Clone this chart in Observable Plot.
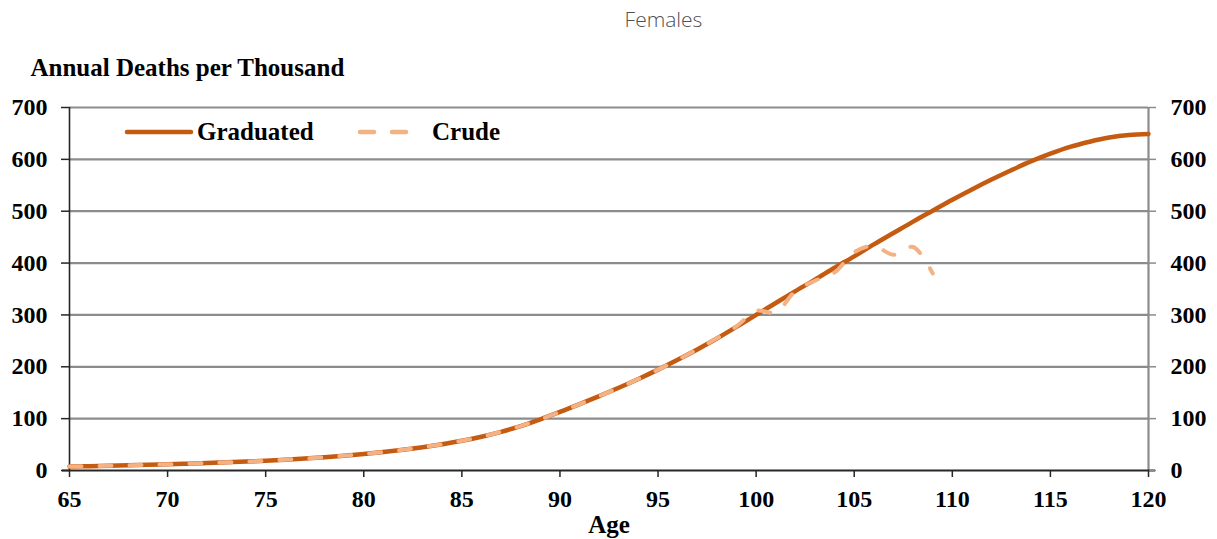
<!DOCTYPE html>
<html>
<head>
<meta charset="utf-8">
<script src="https://cdn.jsdelivr.net/npm/d3@7"></script>
<script src="https://cdn.jsdelivr.net/npm/@observablehq/plot@0.6"></script>
<style>
  html, body { margin: 0; padding: 0; background: #fff; }
  #wrap { position: relative; width: 1217px; height: 539px; overflow: hidden; }
  #title { height: 40px; line-height: 38px; text-align: center; font-family: "Open Sans", sans-serif; font-weight: 300; font-size: 21px; color: #505050; padding-left: 110px; box-sizing: border-box; }
  #legend { position: absolute; left: 0; top: 0; pointer-events: none; }
  #legend text { font-family: "Liberation Serif", "Times New Roman", serif; font-weight: bold; font-size: 25px; fill: #000; }
</style>
</head>
<body>
<div id="wrap">
  <div id="title">Females</div>
  <div id="chart"></div>
  <svg id="legend" width="1217" height="539"></svg>
</div>
<script>
const ages = [65,66,67,68,69,70,71,72,73,74,75,76,77,78,79,80,81,82,83,84,85,86,87,88,89,90,91,92,93,94,95,96,97,98,99,100,101,102,103,104,105,106,107,108,109,110,111,112,113,114,115,116,117,118,119,120];
const graduated = [7.7,8.4,9.2,10.0,10.9,11.9,13.0,14.3,15.7,17.2,18.9,20.9,23.1,25.6,28.5,31.8,35.6,39.9,44.9,50.7,57.3,65.2,74.6,85.7,98.8,113,128,143.5,159.5,176.5,194.5,213.5,233.5,254.5,277,300,323,346,368,391,413,436,458,480,501,522,542,561,579,596,611,624,634,642,647,649];
const crudeAges = [65,66,67,68,69,70,71,72,73,74,75,76,77,78,79,80,81,82,83,84,85,86,87,88,89,90,91,92,93,94,95,96,97,98,99,100,101,102,103,104,105,106,107,108,109];
const crude = [7.7,8.4,9.2,10.0,10.9,11.9,13.0,14.3,15.7,17.2,18.9,20.9,23.1,25.6,28.5,31.8,35.6,39.9,44.9,50.7,57.3,65.2,74.6,85.7,98.8,113,128,143.5,159.5,176.5,194.5,213.5,233.5,255,278,308,305,346,366,382,421,433,416,431,380];
const xTicks = [65,70,75,80,85,90,95,100,105,110,115,120];
const yTicks = [0,100,200,300,400,500,600,700];
const yGrid = [100,200,300,400,500,600,700];
const seriesNames = ["Graduated", "Crude"];
const yTitle = "Annual Deaths per Thousand";
const xTitle = "Age";

const gradData = ages.map((a, i) => ({age: a, q: graduated[i]}));
const crudeData = crudeAges.map((a, i) => ({age: a, q: crude[i]}));

const GRAD = "#C55A11", CRUDE = "#F4B183", GRID = "#8c8c8c", AX = "#262626";
const serif = "'Liberation Serif', 'Times New Roman', serif";

const chart = Plot.plot({
  width: 1217, height: 499,
  marginTop: 67, marginLeft: 69, marginRight: 69, marginBottom: 69,
  x: {domain: [65, 120]},
  y: {domain: [0, 700]},
  style: {fontFamily: serif, fontSize: "24px", fontWeight: "bold", color: "#000", background: "#fff", overflow: "visible"},
  marks: [
    Plot.ruleY(yGrid, {stroke: GRID, strokeWidth: 2.2}),
    Plot.ruleX([120], {stroke: GRID, strokeWidth: 2.2}),
    Plot.ruleX([65], {stroke: AX, strokeWidth: 1.6}),
    Plot.ruleY([0], {stroke: AX, strokeWidth: 1.8, insetLeft: -7, insetRight: -7}),
    Plot.axisY(yTicks, {anchor: "left", tickSize: 8, tickPadding: 14, stroke: AX, strokeWidth: 1.5, label: null, fontSize: 24, fontWeight: "bold", fill: "#000"}),
    Plot.axisY(yTicks, {anchor: "right", tickSize: 7, tickPadding: 15, stroke: GRID, strokeWidth: 1.5, label: null, fontSize: 24, fontWeight: "bold", fill: "#000"}),
    Plot.axisX(xTicks, {anchor: "bottom", tickSize: 7, tickPadding: 12, stroke: AX, strokeWidth: 1.5, label: null, fontSize: 24, fontWeight: "bold", fill: "#000"}),
    Plot.text([xTitle], {frameAnchor: "bottom", dy: 54, lineAnchor: "middle", fontSize: 25, fontWeight: "bold", fill: "#000"}),
    Plot.text([yTitle], {frameAnchor: "top-left", dx: -39, dy: -32, textAnchor: "start", lineAnchor: "bottom", fontSize: 25, fontWeight: "bold", fill: "#000"}),
    Plot.line(gradData, {x: "age", y: "q", stroke: GRAD, strokeWidth: 4.5, curve: "catmull-rom"}),
    Plot.line(crudeData, {x: "age", y: "q", stroke: CRUDE, strokeWidth: 4, strokeDasharray: "12,18", strokeLinecap: "round", curve: "catmull-rom"})
  ]
});
document.getElementById("chart").appendChild(chart);

// legend (swatches only)
const lg = d3.select("#legend");
lg.append("line").attr("x1", 127).attr("x2", 191).attr("y1", 132).attr("y2", 132)
  .attr("stroke", GRAD).attr("stroke-width", 4.5).attr("stroke-linecap", "round");
lg.append("text").attr("x", 197).attr("y", 140).text(seriesNames[0]);
lg.append("line").attr("x1", 360).attr("x2", 407).attr("y1", 132).attr("y2", 132)
  .attr("stroke", CRUDE).attr("stroke-width", 4.5).attr("stroke-linecap", "round").attr("stroke-dasharray", "14,18");
lg.append("text").attr("x", 432).attr("y", 140).text(seriesNames[1]);
</script>
</body>
</html>
